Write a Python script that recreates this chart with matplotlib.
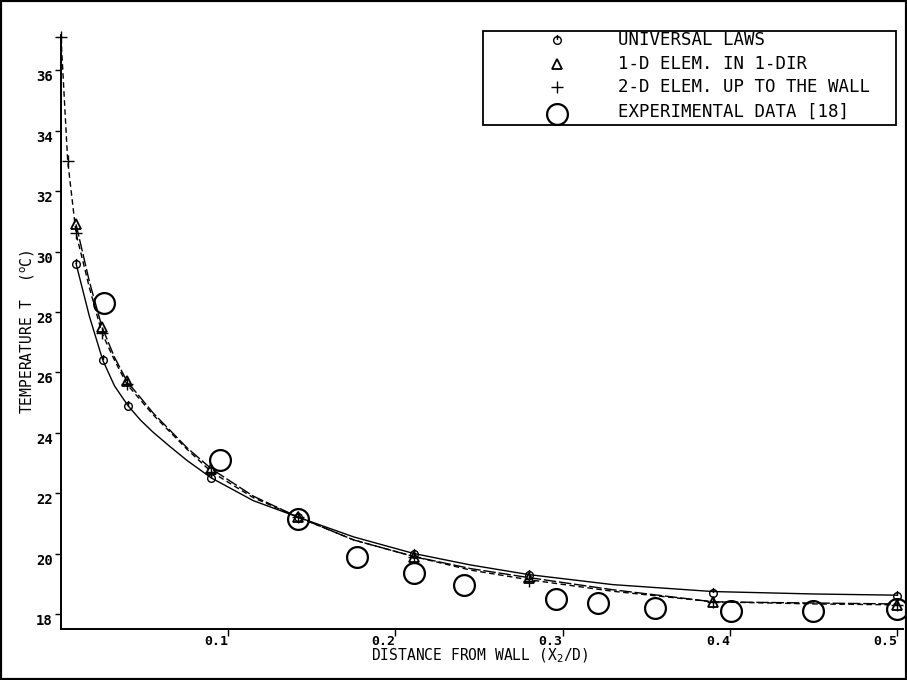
import matplotlib
matplotlib.use("Agg")
import matplotlib.pyplot as plt
from matplotlib.path import Path
from matplotlib.lines import Line2D
from matplotlib.patches import Rectangle

plt.rcParams['font.family'] = ['DejaVu Sans Mono', 'DejaVu Sans']
plt.rcParams['mathtext.fontset'] = 'dejavusans'

# ---------------- data ----------------
univ_x = [0.009, 0.025, 0.040, 0.090, 0.142, 0.211, 0.280, 0.390, 0.500]
univ_T = [29.6, 26.4, 24.9, 22.5, 21.2, 20.0, 19.3, 18.7, 18.6]

one_d_x = [0.009, 0.0245, 0.0395, 0.090, 0.142, 0.211, 0.280, 0.390, 0.500]
one_d_T = [30.9, 27.5, 25.7, 22.8, 21.2, 19.9, 19.2, 18.4, 18.3]

two_d_x = [0.0, 0.004, 0.009, 0.0245, 0.0395, 0.090, 0.142, 0.211, 0.280, 0.390, 0.500]
two_d_T = [37.1, 33.0, 30.6, 27.3, 25.6, 22.7, 21.2, 19.9, 19.1, 18.4, 18.3]

exp_x = [0.026, 0.095, 0.142, 0.177, 0.211, 0.241, 0.296, 0.321, 0.355, 0.401, 0.450, 0.500]
exp_T = [28.3, 23.1, 21.15, 19.9, 19.35, 18.95, 18.5, 18.35, 18.2, 18.1, 18.1, 18.15]

# curves
univ_curve_x = [0.009, 0.017, 0.025, 0.032, 0.040, 0.0475, 0.055, 0.065, 0.0754, 0.090,
                0.115, 0.142, 0.175, 0.211, 0.245, 0.280, 0.330, 0.390, 0.450, 0.500]
univ_curve_T = [29.6, 27.85, 26.4, 25.55, 24.9, 24.42, 24.02, 23.55, 23.08, 22.5,
                21.75, 21.2, 20.55, 20.0, 19.62, 19.3, 18.97, 18.74, 18.66, 18.62]

one_d_curve_x = [0.009, 0.017, 0.0245, 0.032, 0.0395, 0.055, 0.0754, 0.090,
                 0.115, 0.142, 0.175, 0.211, 0.245, 0.280, 0.330, 0.390, 0.450, 0.500]
one_d_curve_T = [30.9, 29.0, 27.5, 26.5, 25.7, 24.66, 23.5, 22.8,
                 21.9, 21.2, 20.45, 19.9, 19.5, 19.2, 18.8, 18.4, 18.36, 18.33]

two_d_curve_x = [0.0, 0.004, 0.009, 0.017, 0.0245, 0.032, 0.0395, 0.055, 0.0754, 0.090,
                 0.115, 0.142, 0.175, 0.211, 0.245, 0.280, 0.330, 0.390, 0.450, 0.500]
two_d_curve_T = [37.1, 33.0, 30.6, 28.8, 27.3, 26.4, 25.6, 24.6, 23.45, 22.7,
                 21.85, 21.2, 20.45, 19.9, 19.45, 19.13, 18.75, 18.4, 18.33, 18.3]

x_ticks = [0.1, 0.2, 0.3, 0.4, 0.5]
x_tick_labels = ['0.1', '0.2', '0.3', '0.4', '0.5']
y_ticks = [18, 20, 22, 24, 26, 28, 30, 32, 34, 36]
y_tick_labels = ['18', '20', '22', '24', '26', '28', '30', '32', '34', '36']

legend_labels = ['UNIVERSAL LAWS', '1-D ELEM. IN 1-DIR',
                 '2-D ELEM. UP TO THE WALL', 'EXPERIMENTAL DATA [18]']

# ---------------- figure ----------------
W, H = 907, 680
fig = plt.figure(figsize=(W / 100, H / 100), dpi=100)
ax = fig.add_axes([61 / W, 1 - 629 / H, (903 - 61) / W, (629 - 35) / H])
ax.set_xlim(0, (903 - 61) / 1672)
ax.set_ylim(17.5, 37.17)

for s in ['top', 'right']:
    ax.spines[s].set_visible(False)
for s in ['left', 'bottom']:
    ax.spines[s].set_linewidth(1.4)

# custom "circle with tick" marker
univ_marker = Path.make_compound_path(Path.unit_circle(),
                                      Path([[0, 0.15], [0, 1.45]]))

k = 'black'
ax.plot(univ_curve_x, univ_curve_T, color=k, lw=1.0, ls='-')
ax.plot(one_d_curve_x, one_d_curve_T, color=k, lw=1.0, dashes=(9, 2))
ax.plot(two_d_curve_x, two_d_curve_T, color=k, lw=1.0, dashes=(4, 2.5), clip_on=False)

ax.plot(univ_x, univ_T, ls='none', marker=univ_marker, ms=8, mfc='none', mec=k, mew=1.0, clip_on=False)
ax.plot(one_d_x, one_d_T, ls='none', marker='^', ms=6.5, mfc='none', mec=k, mew=1.3, clip_on=False)
ax.plot(two_d_x, two_d_T, ls='none', marker='+', ms=9, mec=k, mew=1.0, clip_on=False)
ax.plot(exp_x, exp_T, ls='none', marker='o', ms=15, mfc='none', mec=k, mew=1.6, clip_on=False)

ax.set_xticks(x_ticks)
ax.set_xticklabels(x_tick_labels, fontsize=9.5, fontweight='bold')
ax.set_yticks(y_ticks)
ax.set_yticklabels(y_tick_labels, fontsize=10, fontweight='bold')
ax.tick_params(axis='x', direction='out', length=5, width=1, pad=-1)
ax.tick_params(axis='y', direction='out', length=4, width=1, pad=2)
for lab in ax.get_xticklabels():
    lab.set_horizontalalignment('right')
for lab in ax.get_yticklabels():
    lab.set_verticalalignment('top')

ax.set_xlabel('DISTANCE FROM WALL (X$_2$/D)', fontsize=10.5)
ax.xaxis.set_label_coords((480 - 61) / (903 - 61), -(656 - 629) / (629 - 35), transform=ax.transAxes)
ax.xaxis.label.set_verticalalignment('center')
ax.set_ylabel(r'TEMPERATURE T  ($^{\mathrm{o}}$C)', fontsize=10.5)
ax.yaxis.set_label_coords(-(61 - 28) / (903 - 61), (629 - 332) / (629 - 35), transform=ax.transAxes)
ax.yaxis.label.set_verticalalignment('center')

# ---------------- legend (drawn by hand) ----------------
def fx(px):
    return px / W

def fy(py):
    return 1 - py / H

fig.add_artist(Rectangle((fx(483), fy(125)), (896 - 483) / W, (125 - 31) / H,
                         transform=fig.transFigure, fill=False, ec=k, lw=1.3))
rows = [40, 64, 87, 112]
marker_rows = [40, 64, 87, 114]
styles = [dict(marker=univ_marker, ms=8, mfc='none', mec=k, mew=1.0),
          dict(marker='^', ms=6.5, mfc='none', mec=k, mew=1.3),
          dict(marker='+', ms=9, mec=k, mew=1.0),
          dict(marker='o', ms=15, mfc='none', mec=k, mew=1.6)]
for lab, ry, my, st in zip(legend_labels, rows, marker_rows, styles):
    fig.add_artist(Line2D([fx(557)], [fy(my)], transform=fig.transFigure, ls='none', **st))
    fig.text(fx(618), fy(ry), lab, fontsize=12.5, va='center', ha='left')

# outer frame
fig.add_artist(Rectangle((0, 0), 1, 1, transform=fig.transFigure, fill=False, ec=k, lw=3))

fig.savefig('out.png', dpi=100)
